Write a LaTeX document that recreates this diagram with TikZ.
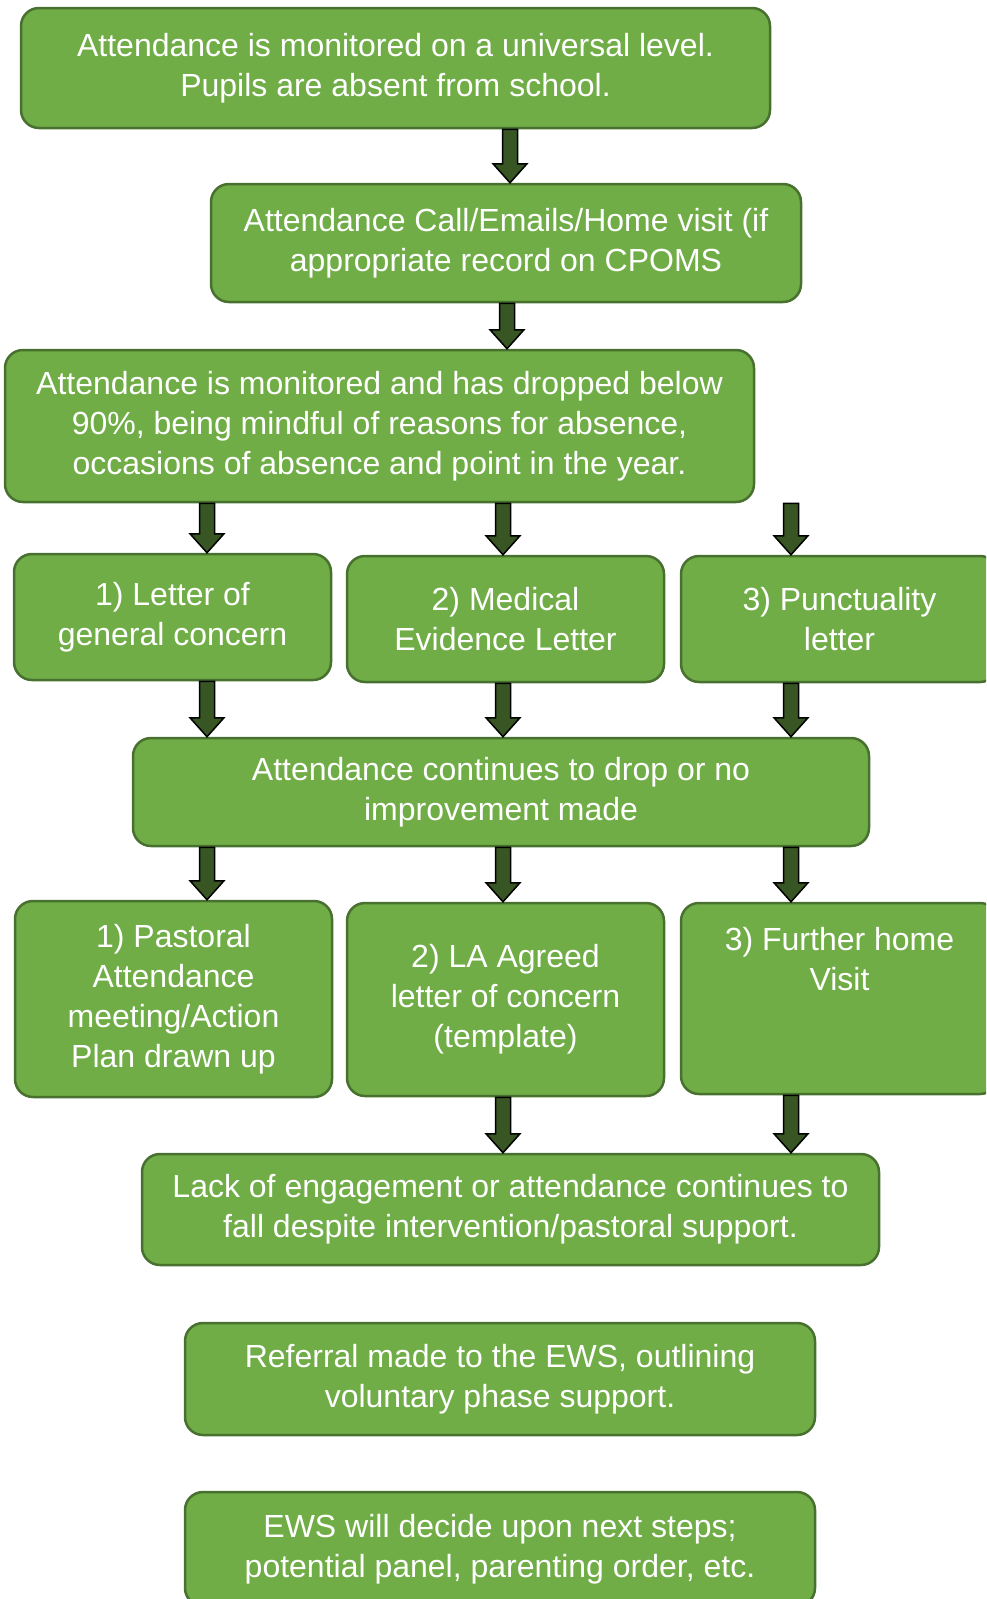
\documentclass[tikz,border=0pt]{standalone}
\usepackage{fontspec}
\setmainfont{Liberation Sans}
\usepackage{xcolor}
\usetikzlibrary{calc}
\definecolor{boxgreen}{HTML}{70AD47}
\definecolor{boxline}{HTML}{48702F}
\definecolor{arrgreen}{HTML}{375623}
\tikzset{
	stepbox/.style={draw=boxline, fill=boxgreen, line width=2.5pt, rounded corners=18pt,
		text=white, align=center, inner sep=0pt, font=\fontsize{32}{40}\selectfont},
	blockarr/.style={draw=black, fill=arrgreen, line width=1.5pt, line join=miter}
}
% block arrow pointing down, from #1 to #2
\newcommand{\downarr}[2]{%
	\draw[blockarr] ($#1+(-7.5,0)$) -- ($#2+(-7.5,-19)$) -- ($#2+(-17,-19)$) -- #2
		-- ($#2+(17,-19)$) -- ($#2+(7.5,-19)$) -- ($#1+(7.5,0)$) -- cycle;}

\begin{document}
\begin{tikzpicture}[x=1pt,y=-1pt]
	\useasboundingbox (0,0) rectangle (986,1599);
	\clip (0,0) rectangle (986,1599);
	\node[stepbox, minimum width=749, minimum height=120] (box1) at (395.5,68)
		{Attendance is monitored on a universal level.\\Pupils are absent from school.};
	\node[stepbox, minimum width=590, minimum height=118] (box2) at (506,243)
		{Attendance Call/Emails/Home visit (if\\appropriate record on CPOMS};
	\node[stepbox, minimum width=749, minimum height=152] (box3) at (379.5,426)
		{Attendance is monitored and has dropped below\\90\%, being mindful of reasons for absence,\\occasions of absence and point in the year.};
	\node[stepbox, minimum width=317, minimum height=126] (a1) at (172.5,617) {1) Letter of\\general concern};
	\node[stepbox, minimum width=317, minimum height=126] (a2) at (505.5,619) {2) Medical\\Evidence Letter};
	\node[stepbox, minimum width=317, minimum height=126] (a3) at (839.5,619) {3) Punctuality\\letter};
	\node[stepbox, minimum width=736, minimum height=108] (box4) at (501,792)
		{Attendance continues to drop or no\\improvement made};
	\node[stepbox, minimum width=317, minimum height=196] (b1) at (173.5,999)
		{1) Pastoral\\Attendance\\meeting/Action\\Plan drawn up};
	\node[stepbox, minimum width=317, minimum height=193] (b2) at (505.5,999.5)
		{2) LA Agreed\\letter of concern\\(template)};
	\node[stepbox, minimum width=317, minimum height=191] (b3) at (839.5,998.5)
		{3) Further home\\Visit\\~\\~};
	\node[stepbox, minimum width=737, minimum height=111] (box5) at (510.5,1209.5)
		{Lack of engagement or attendance continues to\\fall despite intervention/pastoral support.};
	\node[stepbox, minimum width=630, minimum height=112] (box6) at (500,1379)
		{Referral made to the EWS, outlining\\voluntary phase support.};
	\node[stepbox, minimum width=630, minimum height=114] (box7) at (500,1549)
		{EWS will decide upon next steps;\\potential panel, parenting order, etc.};

	% arrow columns
	\coordinate (c0) at (510,0);
	\coordinate (c1) at (507,0);
	\coordinate (cl) at (207,0);
	\coordinate (cm) at (503,0);
	\coordinate (cr) at (791,0);

	\downarr{(box1.south -| c0)}{(box2.north -| c0)}
	\downarr{(box2.south -| c1)}{(box3.north -| c1)}
	\foreach \col/\nd in {cl/a1, cm/a2, cr/a3} {
		\downarr{(box3.south -| \col)}{(\nd.north -| \col)}
		\downarr{(\nd.south -| \col)}{(box4.north -| \col)}
	}
	\foreach \col/\nd in {cl/b1, cm/b2, cr/b3}
		\downarr{(box4.south -| \col)}{(\nd.north -| \col)};
	\foreach \col/\nd in {cm/b2, cr/b3}
		\downarr{(\nd.south -| \col)}{(box5.north -| \col)};
\end{tikzpicture}
\end{document}
